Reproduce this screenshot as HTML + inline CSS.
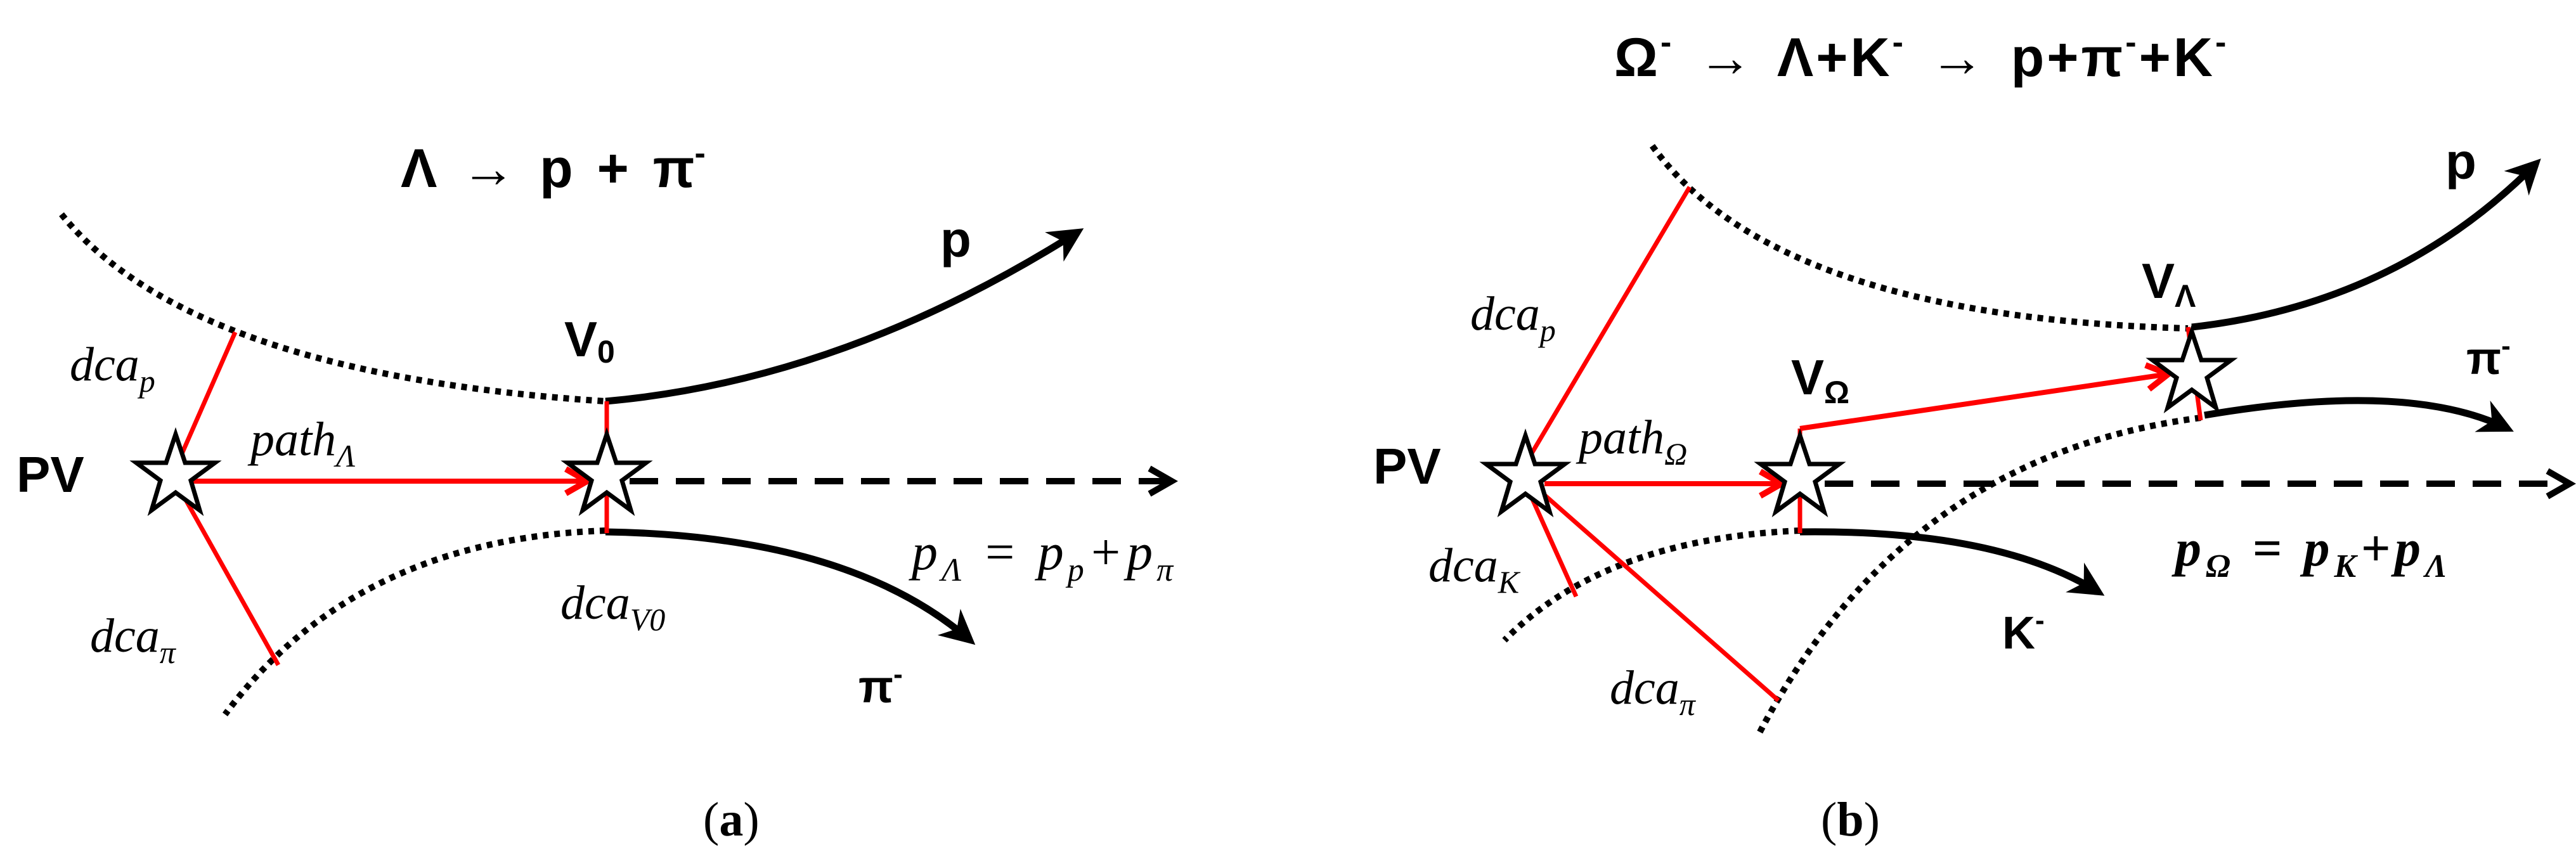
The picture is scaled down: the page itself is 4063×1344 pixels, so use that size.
<!DOCTYPE html>
<html><head><meta charset="utf-8"><style>
html,body{margin:0;padding:0;background:#fff}
svg{display:block}
.b{font-family:"Liberation Sans",sans-serif;font-weight:bold}
.i{font-family:"Liberation Serif",serif;font-style:italic}
.s{font-family:"Liberation Serif",serif}
</style></head><body>
<svg width="4063" height="1344" viewBox="0 0 4063 1344" xmlns="http://www.w3.org/2000/svg">
<defs>
<marker id="ak" viewBox="0 0 10 10" refX="8" refY="5" markerWidth="5" markerHeight="5" orient="auto" markerUnits="strokeWidth"><path d="M0,0 L10,5 L0,10 L3,5 z" fill="#000"/></marker>
<marker id="ar" viewBox="0 0 10 10" refX="8" refY="5" markerWidth="6" markerHeight="6" orient="auto" markerUnits="strokeWidth"><path d="M1,1 L8,5 L1,9" fill="none" stroke="#f00" stroke-width="2"/></marker>
<marker id="ad" viewBox="0 0 10 10" refX="8" refY="5" markerWidth="5" markerHeight="5" orient="auto" markerUnits="strokeWidth"><path d="M1,1 L8,5 L1,9" fill="none" stroke="#000" stroke-width="2"/></marker>
<g id="star"><polygon points="0,-65 15,-20 62,-20 24,8 38,55 0,27 -38,55 -24,8 -62,-20 -15,-20" fill="#fff" stroke="#000" stroke-width="7" stroke-linejoin="miter"/></g>
</defs>
<g fill="none" stroke-linecap="butt">
<path d="M97,338 Q300,590 955,633" stroke="#000" stroke-width="10" stroke-dasharray="9,9"/>
<path d="M955,837 Q560,850 355,1127" stroke="#000" stroke-width="10" stroke-dasharray="9,9"/>
<path d="M955,633 Q1330,600 1700,366" stroke="#000" stroke-width="11" marker-end="url(#ak)"/>
<path d="M955,839 Q1340,845 1530,1010" stroke="#000" stroke-width="11" marker-end="url(#ak)"/>
<line x1="993" y1="759" x2="1848" y2="759" stroke="#000" stroke-width="10" stroke-dasharray="45,28" marker-end="url(#ad)"/>
<line x1="285" y1="720" x2="371" y2="524" stroke="#f00" stroke-width="7"/>
<line x1="277" y1="760" x2="439" y2="1049" stroke="#f00" stroke-width="7"/>
<line x1="957" y1="633" x2="957" y2="841" stroke="#f00" stroke-width="7"/>
<line x1="300" y1="759" x2="926" y2="759" stroke="#f00" stroke-width="8" marker-end="url(#ar)"/>
<path d="M2606,230 Q2800,500 3451,518" stroke="#000" stroke-width="10" stroke-dasharray="9,9"/>
<path d="M3471,659 Q3000,720 2772,1162" stroke="#000" stroke-width="10" stroke-dasharray="9,9"/>
<path d="M2839,837 Q2530,850 2373,1010" stroke="#000" stroke-width="10" stroke-dasharray="9,9"/>
<path d="M3457,516 Q3780,480 4000,258" stroke="#000" stroke-width="11" marker-end="url(#ak)"/>
<path d="M3477,655 Q3800,600 3955,676" stroke="#000" stroke-width="11" marker-end="url(#ak)"/>
<path d="M2839,839 Q3150,835 3310,934" stroke="#000" stroke-width="11" marker-end="url(#ak)"/>
<line x1="2878" y1="763" x2="4053" y2="763" stroke="#000" stroke-width="10" stroke-dasharray="45,28" marker-end="url(#ad)"/>
<line x1="2413" y1="720" x2="2665" y2="295" stroke="#f00" stroke-width="7"/>
<line x1="2406" y1="763" x2="2486" y2="941" stroke="#f00" stroke-width="7"/>
<line x1="2426" y1="772" x2="2805" y2="1105" stroke="#f00" stroke-width="7"/>
<line x1="2839" y1="676" x2="2839" y2="841" stroke="#f00" stroke-width="7"/>
<line x1="3451" y1="516" x2="3471" y2="663" stroke="#f00" stroke-width="7"/>
<line x1="2436" y1="763" x2="2810" y2="763" stroke="#f00" stroke-width="8" marker-end="url(#ar)"/>
<polyline points="2839,676 3420,590" stroke="#f00" stroke-width="8" marker-end="url(#ar)"/>
</g>
<use href="#star" x="277" y="750"/>
<use href="#star" x="957" y="750"/>
<use href="#star" x="2406" y="752"/>
<use href="#star" x="2839" y="752"/>
<use href="#star" x="3457" y="588"/>
<text class="b" x="632" y="295" font-size="86" word-spacing="14">Λ → p + π<tspan font-size="52" dy="-36">-</tspan></text>
<text class="b" x="1483" y="405" font-size="80">p</text>
<text class="b" x="890" y="562" font-size="78">V<tspan font-size="50" dy="10">0</tspan></text>
<text class="b" x="26" y="776" font-size="80">PV</text>
<text class="i" x="110" y="600" font-size="76">dca<tspan font-size="50" dy="18">p</tspan></text>
<text class="i" x="395" y="718" font-size="76">path<tspan font-size="50" dy="18">Λ</tspan></text>
<text class="i" x="1438" y="898" font-size="82" letter-spacing="6">p<tspan font-size="52" dy="18">Λ</tspan><tspan dy="-18" class="s"> = </tspan>p<tspan font-size="52" dy="18">p</tspan><tspan dy="-18" class="s">+</tspan>p<tspan font-size="52" dy="18">π</tspan></text>
<text class="i" x="884" y="976" font-size="76">dca<tspan font-size="50" dy="18">V0</tspan></text>
<text class="i" x="142" y="1028" font-size="76">dca<tspan font-size="50" dy="18">π</tspan></text>
<text class="b" x="1354" y="1108" font-size="72">π<tspan font-size="44" dy="-30">-</tspan></text>
<text class="s" x="1109" y="1318" font-size="76">(<tspan font-weight="bold">a</tspan>)</text>
<text class="b" x="2546" y="120" font-size="86" letter-spacing="4" word-spacing="10">Ω<tspan font-size="52" dy="-36">-</tspan><tspan dy="36"> → Λ+K</tspan><tspan font-size="52" dy="-36">-</tspan><tspan dy="36"> → p+π</tspan><tspan font-size="52" dy="-36">-</tspan><tspan dy="36">+K</tspan><tspan font-size="52" dy="-36">-</tspan></text>
<text class="b" x="3857" y="282" font-size="80">p</text>
<text class="b" x="3378" y="470" font-size="78">V<tspan font-size="50" dy="14">Λ</tspan></text>
<text class="b" x="3890" y="590" font-size="72">π<tspan font-size="44" dy="-30">-</tspan></text>
<text class="b" x="2825" y="622" font-size="78">V<tspan font-size="50" dy="14">Ω</tspan></text>
<text class="b" x="2166" y="763" font-size="80">PV</text>
<text class="i" x="2319" y="520" font-size="76">dca<tspan font-size="50" dy="18">p</tspan></text>
<text class="i" x="2490" y="715" font-size="76">path<tspan font-size="50" dy="18">Ω</tspan></text>
<text class="i" x="2253" y="917" font-size="76">dca<tspan font-size="50" dy="18">K</tspan></text>
<text class="i" x="2539" y="1110" font-size="76">dca<tspan font-size="50" dy="18">π</tspan></text>
<text class="b" x="3158" y="1023" font-size="72">K<tspan font-size="44" dy="-30">-</tspan></text>
<text class="i" x="3431" y="892" font-size="82" font-weight="bold" letter-spacing="7">p<tspan font-size="52" dy="18">Ω</tspan><tspan dy="-18" class="s"> = </tspan>p<tspan font-size="52" dy="18">K</tspan><tspan dy="-18" class="s">+</tspan>p<tspan font-size="52" dy="18">Λ</tspan></text>
<text class="s" x="2872" y="1318" font-size="76">(<tspan font-weight="bold">b</tspan>)</text>
</svg>
</body></html>
